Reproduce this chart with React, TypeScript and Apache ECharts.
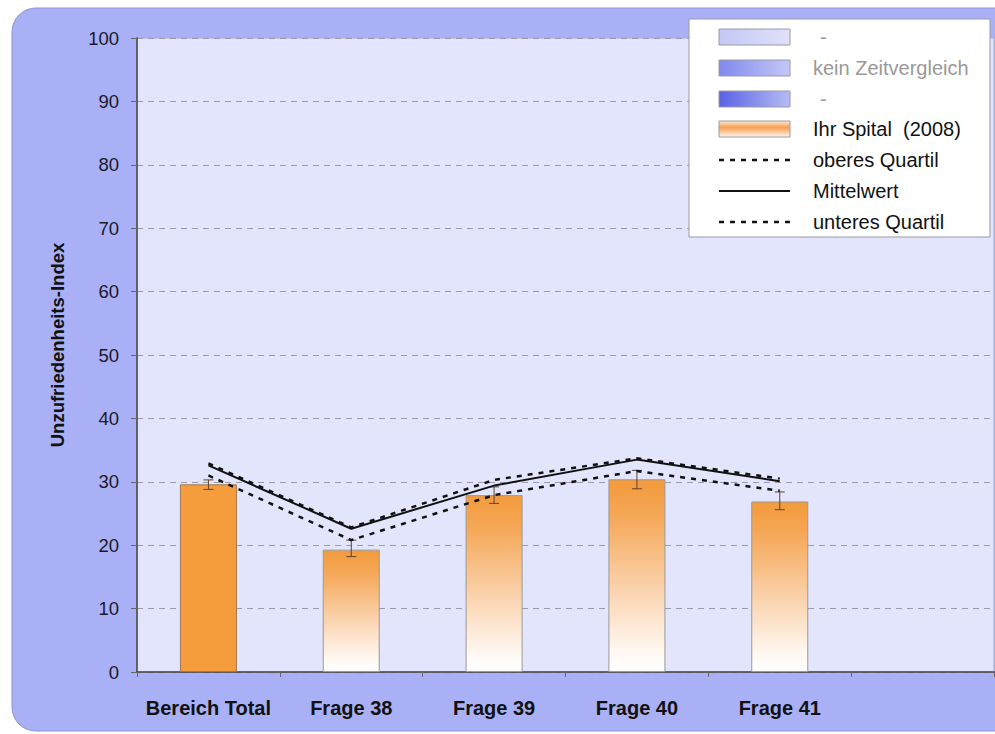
import React, { useEffect, useRef } from "react";
import * as echarts from "echarts";

const categories = ["Bereich Total", "Frage 38", "Frage 39", "Frage 40", "Frage 41", ""];
const spitalValues = [29.6, 19.3, 27.9, 30.4, 26.9];
const errorLow = [28.8, 18.2, 26.6, 28.9, 25.6];
const errorHigh = [30.3, 20.8, 29.2, 31.8, 28.4];
const meanValues = [32.6, 22.6, 29.4, 33.5, 30.1];
const upperQuartile = [32.9, 22.8, 30.3, 33.7, 30.5];
const lowerQuartile = [31.0, 20.8, 27.9, 31.7, 28.6];
const yMin = 0;
const yMax = 100;
const yInterval = 10;
const yAxisTitle = "Unzufriedenheits-Index";
const legendLabels = ["-", "kein Zeitvergleich", "-", "Ihr Spital  (2008)", "oberes Quartil", "Mittelwert", "unteres Quartil"];

const FONT = "'Liberation Sans', Arial, Helvetica, sans-serif";

function fadeGradient() {
  return new echarts.graphic.LinearGradient(0, 0, 0, 1, [
    { offset: 0, color: "#f39a3b" },
    { offset: 0.2, color: "#f5a95a" },
    { offset: 0.6, color: "#fbd6b4" },
    { offset: 0.9, color: "#fff8f2" },
    { offset: 1, color: "#ffffff" },
  ]);
}

export default function App() {
  const ref = useRef<HTMLDivElement>(null);

  useEffect(() => {
    if (!ref.current) return;
    const chart = echarts.init(ref.current, null, { renderer: "svg" });

    const barData = spitalValues.map((v, i) => ({
      value: v,
      itemStyle: {
        color: i === 0 ? "#f59d3d" : fadeGradient(),
        borderColor: i === 0 ? "#a07850" : "#9a9a9a",
        borderWidth: 1,
      },
    }));

    const errData = spitalValues.map((_, i) => [i, errorLow[i], errorHigh[i]]);

    const legendRowY = [37, 68, 99, 129, 160, 191, 222];
    const legendIcons: any[] = [];
    const iconFills = [
      new echarts.graphic.LinearGradient(0, 0, 1, 0, [
        { offset: 0, color: "#c3c7f5" },
        { offset: 1, color: "#dfe1fa" },
      ]),
      new echarts.graphic.LinearGradient(0, 0, 1, 0, [
        { offset: 0, color: "#8088ee" },
        { offset: 1, color: "#c4c8f6" },
      ]),
      new echarts.graphic.LinearGradient(0, 0, 1, 0, [
        { offset: 0, color: "#5a61e6" },
        { offset: 1, color: "#b6bbf3" },
      ]),
      new echarts.graphic.LinearGradient(0, 0, 0, 1, [
        { offset: 0, color: "#fde9d8" },
        { offset: 0.4, color: "#f5a050" },
        { offset: 1, color: "#fff6ee" },
      ]),
    ];
    legendLabels.forEach((label, i) => {
      const cy = legendRowY[i];
      if (i < 4) {
        legendIcons.push({
          type: "rect",
          shape: { x: 719, y: cy - 8, width: 71, height: 16 },
          style: { fill: iconFills[i], stroke: "#9a9aa8", lineWidth: 1 },
          z: 101,
        });
      } else {
        legendIcons.push({
          type: "line",
          shape: { x1: 719, y1: cy, x2: 790, y2: cy },
          style: {
            stroke: "#111",
            lineWidth: i === 5 ? 2 : 2.5,
            lineDash: i === 5 ? null : [5, 6],
          },
          z: 101,
        });
      }
      legendIcons.push({
        type: "text",
        x: i === 0 || i === 2 ? 820 : 813,
        y: cy,
        style: {
          text: label,
          fill: i < 3 ? "#999999" : "#111111",
          font: `20px ${FONT}`,
          textVerticalAlign: "middle",
          verticalAlign: "middle",
        },
        z: 101,
      });
    });

    const option: any = {
      animation: false,
      backgroundColor: "#ffffff",
      textStyle: { fontFamily: FONT },
      graphic: [
        {
          type: "rect",
          shape: { x: 12, y: 8, width: 1010, height: 723, r: 24 },
          style: { fill: "#a9b0f5", stroke: "#8c92d2", lineWidth: 1 },
          z: -10,
          silent: true,
        },
        {
          type: "rect",
          shape: { x: 689, y: 19, width: 301, height: 218 },
          style: { fill: "#ffffff", stroke: "#9a9aa6", lineWidth: 1 },
          z: 100,
        },
        ...legendIcons,
      ],
      grid: {
        left: 137,
        right: 1,
        top: 38,
        bottom: 62,
        show: true,
        backgroundColor: "#e2e5fb",
        borderColor: "#a8aac0",
        borderWidth: 1,
        containLabel: false,
      },
      xAxis: {
        type: "category",
        data: categories,
        boundaryGap: true,
        axisLine: { show: true, lineStyle: { color: "#444", width: 1.5 } },
        axisTick: { show: true, length: 5, alignWithLabel: false, lineStyle: { color: "#666" } },
        axisLabel: {
          color: "#111",
          fontSize: 20,
          fontWeight: "bold",
          fontFamily: FONT,
          margin: 26,
          interval: 0,
        },
        splitLine: { show: false },
      },
      yAxis: {
        type: "value",
        min: yMin,
        max: yMax,
        interval: yInterval,
        name: yAxisTitle,
        nameLocation: "middle",
        nameGap: 70,
        nameTextStyle: {
          color: "#111",
          fontSize: 18.5,
          fontWeight: "bold",
          fontFamily: FONT,
          padding: [0, 0, 0, 20],
        },
        axisLine: { show: true, lineStyle: { color: "#444", width: 1.5 } },
        axisTick: { show: true, length: 6, lineStyle: { color: "#666" } },
        axisLabel: { color: "#1a1a2a", fontSize: 18.5, fontFamily: FONT, margin: 18 },
        splitLine: { show: true, lineStyle: { color: "#9a9aaa", type: [6, 5], width: 1 } },
      },
      series: [
        {
          name: "Ihr Spital (2008)",
          type: "bar",
          data: barData,
          barWidth: 57,
          z: 2,
        },
        {
          name: "Fehler",
          type: "custom",
          data: errData,
          z: 3,
          renderItem: (params: any, api: any) => {
            const x = api.value(0);
            const lo = api.coord([x, api.value(1)]);
            const hi = api.coord([x, api.value(2)]);
            const style = { stroke: "#5e4030", lineWidth: 1 };
            return {
              type: "group",
              children: [
                { type: "line", shape: { x1: lo[0], y1: lo[1], x2: hi[0], y2: hi[1] }, style },
                { type: "line", shape: { x1: lo[0] - 5, y1: lo[1], x2: lo[0] + 5, y2: lo[1] }, style },
                { type: "line", shape: { x1: hi[0] - 5, y1: hi[1], x2: hi[0] + 5, y2: hi[1] }, style },
              ],
            };
          },
        },
        {
          name: "Mittelwert",
          type: "line",
          data: meanValues,
          showSymbol: false,
          symbol: "none",
          lineStyle: { color: "#111", width: 2 },
          z: 5,
        },
        {
          name: "oberes Quartil",
          type: "line",
          data: upperQuartile,
          showSymbol: false,
          symbol: "none",
          lineStyle: { color: "#111", width: 2.5, type: [5, 6] },
          z: 5,
        },
        {
          name: "unteres Quartil",
          type: "line",
          data: lowerQuartile,
          showSymbol: false,
          symbol: "none",
          lineStyle: { color: "#111", width: 2.5, type: [5, 6] },
          z: 5,
        },
      ],
    };

    chart.setOption(option);
    return () => chart.dispose();
  }, []);

  return (
    <div
      ref={ref}
      style={{ position: "fixed", left: 0, top: 0, width: 995, height: 734 }}
    />
  );
}
